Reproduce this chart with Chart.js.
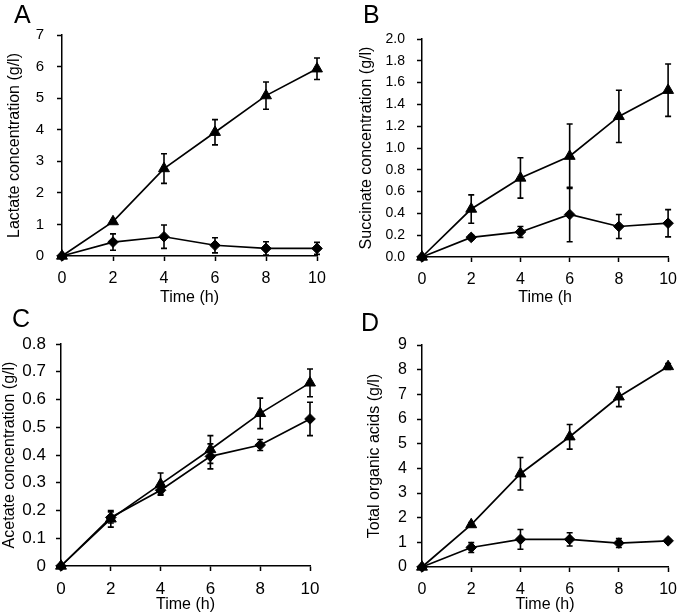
<!DOCTYPE html>
<html>
<head>
<meta charset="utf-8">
<script src="https://cdn.jsdelivr.net/npm/chart.js@4/dist/chart.umd.min.js"></script>
<style>
  body { margin: 0; background: #fff; }
  #wrap { position: relative; width: 685px; height: 615px; overflow: hidden; background: #fff; }
  canvas { position: absolute; }
  .letter { position: absolute; font-family: 'Liberation Sans', Arial, sans-serif; font-size: 25px; line-height: 1; color: #000; }
</style>
</head>
<body>
<div id="wrap">
  <canvas id="chartA" width="342" height="307" style="left:0;top:0"></canvas>
  <canvas id="chartB" width="343" height="307" style="left:342px;top:0"></canvas>
  <canvas id="chartC" width="342" height="308" style="left:0;top:307px"></canvas>
  <canvas id="chartD" width="343" height="308" style="left:342px;top:307px"></canvas>
  <div class="letter" style="left:14px;top:2px">A</div>
  <div class="letter" style="left:363px;top:2px">B</div>
  <div class="letter" style="left:12px;top:306px">C</div>
  <div class="letter" style="left:361px;top:310px">D</div>
</div>
<script>
// время отбора проб, ч
const hours = [0, 2, 4, 6, 8, 10];

// A - лактат
const lactateTri = [0, 1.09, 2.77, 3.92, 5.08, 5.93];
const lactateTriErr = [0, 0.05, 0.47, 0.40, 0.43, 0.34];
const lactateDia = [0, 0.44, 0.61, 0.34, 0.24, 0.24];
const lactateDiaErr = [0, 0.26, 0.37, 0.24, 0.21, 0.19];

// B - сукцинат
const succinateTri = [0, 0.44, 0.725, 0.925, 1.29, 1.53];
const succinateTriErr = [0, 0.13, 0.185, 0.295, 0.24, 0.24];
const succinateDia = [0, 0.18, 0.23, 0.39, 0.28, 0.31];
const succinateDiaErr = [0, 0.02, 0.05, 0.25, 0.11, 0.125];

// C - ацетат
const acetateTri = [0, 0.17, 0.295, 0.42, 0.55, 0.66];
const acetateTriErr = [0, 0.03, 0.04, 0.05, 0.055, 0.05];
const acetateDia = [0, 0.175, 0.273, 0.395, 0.436, 0.53];
const acetateDiaErr = [0, 0.02, 0.015, 0.045, 0.02, 0.06];

// D - сумма органических кислот
const totalTri = [0, 1.72, 3.78, 5.28, 6.9, 8.13];
const totalTriErr = [0, 0.08, 0.66, 0.5, 0.4, 0.12];
const totalDia = [0, 0.79, 1.12, 1.12, 0.97, 1.06];
const totalDiaErr = [0, 0.2, 0.4, 0.27, 0.18, 0.06];

Chart.defaults.font.family = "'Liberation Sans', Arial, sans-serif";
Chart.defaults.font.size = 14;
Chart.defaults.color = '#000';

// усы погрешностей
const errorBars = {
    id: 'errorBars',
    beforeDatasetsDraw(chart) {
        const ctx = chart.ctx;
        const ys = chart.scales.y;
        ctx.save();
        ctx.strokeStyle = '#000';
        ctx.lineWidth = 1.6;
        chart.data.datasets.forEach((ds, i) => {
            const meta = chart.getDatasetMeta(i);
            meta.data.forEach((pt, j) => {
                const err = ds.errors[j];
                if (!err) return;
                const v = ds.data[j].y;
                const top = ys.getPixelForValue(v + err);
                const bot = ys.getPixelForValue(v - err);
                ctx.beginPath();
                ctx.moveTo(pt.x, top);
                ctx.lineTo(pt.x, bot);
                ctx.moveTo(pt.x - 3, top);
                ctx.lineTo(pt.x + 3, top);
                ctx.moveTo(pt.x - 3, bot);
                ctx.lineTo(pt.x + 3, bot);
                ctx.stroke();
            });
        });
        ctx.restore();
    }
};

function series(values, errors, style, radius) {
    return {
        data: hours.map((h, i) => ({ x: h, y: values[i] })),
        errors: errors,
        borderColor: '#000',
        backgroundColor: '#000',
        borderWidth: 1.7,
        pointStyle: style,
        pointRadius: radius,
        pointBorderWidth: 1,
        pointBorderColor: '#000',
        pointBackgroundColor: '#000',
        clip: false,
        tension: 0
    };
}

function makeChart(id, opts) {
    const axisLine = { display: true, color: '#000', width: 1.5 };
    const gridOpts = { display: true, drawOnChartArea: false, drawTicks: true, tickLength: 5, tickColor: '#000', tickWidth: 1.5 };
    new Chart(document.getElementById(id), {
        type: 'line',
        data: {
            datasets: [
                series(opts.tri, opts.triErr, 'triangle', 6.3),
                series(opts.dia, opts.diaErr, 'rectRot', 5.3)
            ]
        },
        options: {
            responsive: false,
            animation: false,
            layout: { padding: opts.padding },
            plugins: { legend: { display: false }, tooltip: { enabled: false } },
            scales: {
                x: {
                    type: 'linear',
                    min: 0,
                    max: 10,
                    border: axisLine,
                    grid: gridOpts,
                    ticks: { stepSize: 2, padding: 8, font: { size: opts.xTickSize } },
                    title: { display: true, text: opts.xTitle, font: { size: 16 }, padding: { top: 0, bottom: opts.xTitlePad } },
                    afterFit: s => { s.height = opts.xHeight; }
                },
                y: {
                    min: 0,
                    max: opts.yMax,
                    border: axisLine,
                    grid: gridOpts,
                    ticks: {
                        stepSize: opts.yStep,
                        padding: opts.yTickPad,
                        font: { size: opts.yTickSize },
                        callback: v => opts.fmt(v)
                    },
                    title: { display: true, text: opts.yTitle, font: { size: 16 }, padding: { top: opts.yTitlePad, bottom: 0 } },
                    afterFit: s => { s.width = opts.yWidth; }
                }
            }
        },
        plugins: [errorBars]
    });
}

makeChart('chartA', {
    tri: lactateTri, triErr: lactateTriErr, dia: lactateDia, diaErr: lactateDiaErr,
    yMax: 7, yStep: 1, fmt: v => String(Math.round(v)),
    yTitle: 'Lactate concentration (g/l)', xTitle: 'Time (h)',
    padding: { left: 0, top: 35, right: 25, bottom: 0 },
    yWidth: 62, xHeight: 51, yTitlePad: 5, xTitlePad: 0,
    yTickPad: 13, yTickSize: 15, xTickSize: 16
});

makeChart('chartB', {
    tri: succinateTri, triErr: succinateTriErr, dia: succinateDia, diaErr: succinateDiaErr,
    yMax: 2, yStep: 0.2, fmt: v => v.toFixed(1),
    yTitle: 'Succinate concentration (g/l)', xTitle: 'Time (h',
    padding: { left: 0, top: 39, right: 10, bottom: 0 },
    yWidth: 80, xHeight: 50, yTitlePad: 15, xTitlePad: 0,
    yTickPad: 12, yTickSize: 14, xTickSize: 16
});

makeChart('chartC', {
    tri: acetateTri, triErr: acetateTriErr, dia: acetateDia, diaErr: acetateDiaErr,
    yMax: 0.8, yStep: 0.1, fmt: v => (Math.abs(v) < 1e-9 ? '0' : v.toFixed(1)),
    yTitle: 'Acetate concentration (g/l)', xTitle: 'Time (h)',
    padding: { left: 0, top: 37, right: 32, bottom: 0 },
    yWidth: 61, xHeight: 49, yTitlePad: 0, xTitlePad: 1,
    yTickPad: 10, yTickSize: 17, xTickSize: 17
});

makeChart('chartD', {
    tri: totalTri, triErr: totalTriErr, dia: totalDia, diaErr: totalDiaErr,
    yMax: 9, yStep: 1, fmt: v => String(Math.round(v)),
    yTitle: 'Total organic acids (g/l)', xTitle: 'Time (h)',
    padding: { left: 0, top: 38, right: 13, bottom: 0 },
    yWidth: 80, xHeight: 48, yTitlePad: 23, xTitlePad: 1,
    yTickPad: 10, yTickSize: 16, xTickSize: 16
});
</script>
</body>
</html>
